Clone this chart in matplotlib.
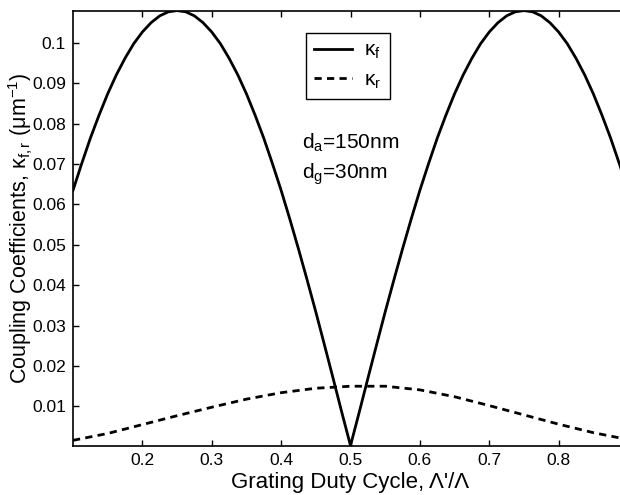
import matplotlib
matplotlib.use("Agg")
import matplotlib.pyplot as plt

# duty cycle and coupling coefficients
duty_f = [0.1000, 0.1125, 0.1250, 0.1375, 0.1500, 0.1625, 0.1750, 0.1875, 0.2000,
          0.2125, 0.2250, 0.2375, 0.2500, 0.2625, 0.2750, 0.2875, 0.3000, 0.3125,
          0.3250, 0.3375, 0.3500, 0.3625, 0.3750, 0.3875, 0.4000, 0.4125, 0.4250,
          0.4375, 0.4500, 0.4625, 0.4750, 0.4875, 0.5000, 0.5125, 0.5250, 0.5375,
          0.5500, 0.5625, 0.5750, 0.5875, 0.6000, 0.6125, 0.6250, 0.6375, 0.6500,
          0.6625, 0.6750, 0.6875, 0.7000, 0.7125, 0.7250, 0.7375, 0.7500, 0.7625,
          0.7750, 0.7875, 0.8000, 0.8125, 0.8250, 0.8375, 0.8500, 0.8625, 0.8750,
          0.8875, 0.9000]
kappa_f = [0.0635, 0.0701, 0.0764, 0.0821, 0.0874, 0.0921, 0.0962, 0.0998, 0.1027,
           0.1050, 0.1067, 0.1077, 0.1080, 0.1077, 0.1067, 0.1050, 0.1027, 0.0998,
           0.0962, 0.0921, 0.0874, 0.0821, 0.0764, 0.0701, 0.0635, 0.0564, 0.0490,
           0.0413, 0.0334, 0.0252, 0.0169, 0.0085, 0.0003, 0.0085, 0.0169, 0.0252,
           0.0334, 0.0413, 0.0490, 0.0564, 0.0635, 0.0701, 0.0764, 0.0821, 0.0874,
           0.0921, 0.0962, 0.0998, 0.1027, 0.1050, 0.1067, 0.1077, 0.1080, 0.1077,
           0.1067, 0.1050, 0.1027, 0.0998, 0.0962, 0.0921, 0.0874, 0.0821, 0.0764,
           0.0701, 0.0635]

duty_r = [0.10, 0.15, 0.20, 0.25, 0.30, 0.35, 0.40, 0.45, 0.50,
          0.55, 0.60, 0.65, 0.70, 0.75, 0.80, 0.85, 0.90]
kappa_r = [0.0016, 0.0033, 0.0055, 0.0077, 0.0098, 0.0118, 0.0134, 0.0145, 0.0150,
           0.0150, 0.0141, 0.0124, 0.0102, 0.0079, 0.0056, 0.0035, 0.0018]

x_ticks = [0.2, 0.3, 0.4, 0.5, 0.6, 0.7, 0.8]
y_ticks = [0.01, 0.02, 0.03, 0.04, 0.05, 0.06, 0.07, 0.08, 0.09, 0.1]

plt.rcParams.update({
    "font.family": ["Liberation Sans", "DejaVu Sans"],
    "mathtext.fontset": "custom",
    "mathtext.rm": "Liberation Sans",
    "mathtext.it": "Liberation Sans",
    "mathtext.bf": "Liberation Sans:bold",
})

fig = plt.figure(figsize=(6.2, 4.95), dpi=100)
# right spine sits just beyond the cropped edge, as in the reference
ax = fig.add_axes([73 / 620, 1 - 446 / 495, 555 / 620, 435 / 495])

ax.plot(duty_f, kappa_f, "-", color="black", lw=2.0, label=r"κ$_{f}$")
ax.plot(duty_r, kappa_r, color="black", lw=2.0, linestyle=(0, (2.6, 1.9)), label=r"κ$_{r}$")

ax.set_xlim(0.1, 0.9)
ax.set_ylim(0.0002, 0.1079)
ax.set_xticks(x_ticks, [f"{v:g}" for v in x_ticks])
ax.set_yticks(y_ticks, [f"{v:g}" for v in y_ticks])
ax.tick_params(direction="in", length=4, width=1.0, top=True, right=True,
               labelsize=12.5, pad=5)
for spine in ax.spines.values():
    spine.set_linewidth(1.2)

ax.set_xlabel("Grating Duty Cycle, Λ'/Λ", fontsize=16, labelpad=3)
ax.set_ylabel(r"Coupling Coefficients, κ$_{f,r}$ (μm$^{-1}$)", fontsize=15.5)
ax.yaxis.set_label_coords(-0.068, 0.5)

leg = ax.legend(loc="upper left", bbox_to_anchor=(0.42, 0.95), borderaxespad=0,
                fontsize=15, handlelength=1.8, fancybox=False, edgecolor="black",
                framealpha=1, borderpad=0.4, labelspacing=0.45, handletextpad=0.6)
leg.get_frame().set_linewidth(1.0)

ax.text(0.43, 0.0739, r"d$_a$=150nm", fontsize=15, va="baseline", ha="left")
ax.text(0.43, 0.0665, r"d$_g$=30nm", fontsize=15, va="baseline", ha="left")

fig.savefig("out.png", dpi=100)
